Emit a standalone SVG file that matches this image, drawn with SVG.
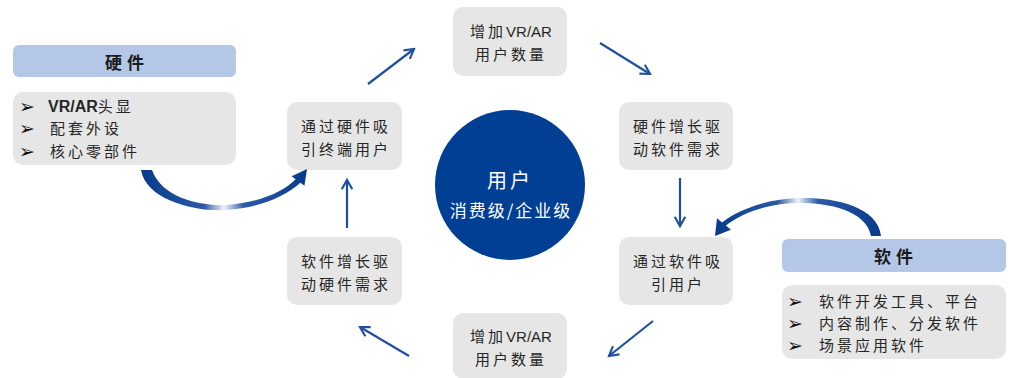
<svg xmlns="http://www.w3.org/2000/svg" width="1009" height="378" viewBox="0 0 1009 378">
  <defs>
    <style>
      .box { fill: #e6e6e6; }
      .hdr { fill: #b4c7e7; }
      .t { font-family: "Noto Sans CJK SC", "Noto Sans", sans-serif; font-size: 15px; fill: #262626; letter-spacing: 3px; text-anchor: middle; }
      .h { font-family: "Noto Sans CJK SC", "Noto Sans", sans-serif; font-size: 17px; font-weight: bold; fill: #1a1a1a; letter-spacing: 5px; text-anchor: middle; }
      .li { font-family: "Noto Sans CJK SC", "Noto Sans", sans-serif; font-size: 15px; fill: #262626; letter-spacing: 3px; }
      .bul { font-family: "DejaVu Sans", sans-serif; font-size: 19px; fill: #111; }
      .w { font-family: "Noto Sans CJK SC", "Noto Sans", sans-serif; fill: #ffffff; text-anchor: middle; }
      .conn { stroke: #1f4fa0; stroke-width: 2.2; fill: none; marker-end: url(#ah); }
    </style>
    <marker id="ah" viewBox="0 0 10 10" refX="8" refY="5" markerWidth="6" markerHeight="6" orient="auto" markerUnits="strokeWidth">
      <path d="M1,1 L8,5 L1,9" fill="none" stroke="#1f4fa0" stroke-width="1.6"/>
    </marker>
    <linearGradient id="gh" x1="0" y1="0" x2="1" y2="0">
      <stop offset="0" stop-color="#073a8c"/>
      <stop offset="0.38" stop-color="#2d5aa6"/>
      <stop offset="0.5" stop-color="#eef2fa"/>
      <stop offset="0.62" stop-color="#2d5aa6"/>
      <stop offset="1" stop-color="#073a8c"/>
    </linearGradient>
  </defs>

  <g id="hardware-header">
    <rect class="hdr" x="13" y="45" width="223" height="32" rx="6"/>
    <text class="h" x="127" y="69">硬件</text>
  </g>
  <g id="hardware-list">
    <rect class="box" x="13" y="92" width="223" height="73" rx="10"/>
    <text class="bul" x="19" y="113">➢</text>
    <text class="bul" x="19" y="135">➢</text>
    <text class="bul" x="19" y="158">➢</text>
    <text class="li" x="48" y="112"><tspan font-family="Liberation Sans, sans-serif" font-weight="bold" font-size="16" letter-spacing="0">VR/AR</tspan>头显</text>
    <text class="li" x="50" y="134">配套外设</text>
    <text class="li" x="50" y="157">核心零部件</text>
  </g>

  <g id="attract-hw">
    <rect class="box" x="287" y="102" width="115" height="68" rx="10"/>
    <text class="t" x="346" y="132">通过硬件吸</text>
    <text class="t" x="346" y="155">引终端用户</text>
  </g>
  <g id="increase-top">
    <rect class="box" x="453" y="7" width="114" height="69" rx="10"/>
    <text class="t" x="511" y="37">增加<tspan font-family="Liberation Sans, sans-serif" letter-spacing="0">VR/AR</tspan></text>
    <text class="t" x="511" y="60">用户数量</text>
  </g>
  <g id="hw-drives-sw">
    <rect class="box" x="619" y="102" width="114" height="68" rx="10"/>
    <text class="t" x="678" y="132">硬件增长驱</text>
    <text class="t" x="678" y="155">动软件需求</text>
  </g>
  <g id="attract-sw">
    <rect class="box" x="619" y="237" width="114" height="68" rx="10"/>
    <text class="t" x="678" y="267">通过软件吸</text>
    <text class="t" x="678" y="290">引用户</text>
  </g>
  <g id="increase-bottom">
    <rect class="box" x="453" y="313" width="114" height="66" rx="10"/>
    <text class="t" x="511" y="342">增加<tspan font-family="Liberation Sans, sans-serif" letter-spacing="0">VR/AR</tspan></text>
    <text class="t" x="511" y="365">用户数量</text>
  </g>
  <g id="sw-drives-hw">
    <rect class="box" x="287" y="237" width="115" height="68" rx="10"/>
    <text class="t" x="346" y="267">软件增长驱</text>
    <text class="t" x="346" y="290">动硬件需求</text>
  </g>

  <g id="users">
    <circle cx="510" cy="185" r="75" fill="#003f94"/>
    <text class="w" x="510" y="188" font-size="20" letter-spacing="3">用户</text>
    <text class="w" x="511" y="217" font-size="17" letter-spacing="2">消费级/企业级</text>
  </g>

  <g id="software-header">
    <rect class="hdr" x="782" y="239" width="224" height="33" rx="6"/>
    <text class="h" x="896" y="263">软件</text>
  </g>
  <g id="software-list">
    <rect class="box" x="782" y="285" width="224" height="74" rx="10"/>
    <text class="bul" x="787" y="308">➢</text>
    <text class="bul" x="787" y="330">➢</text>
    <text class="bul" x="787" y="352">➢</text>
    <text class="li" x="819" y="307">软件开发工具、平台</text>
    <text class="li" x="819" y="329">内容制作、分发软件</text>
    <text class="li" x="819" y="351">场景应用软件</text>
  </g>

  <g id="connectors">
    <line class="conn" x1="368" y1="84" x2="414" y2="49"/>
    <line class="conn" x1="600" y1="43" x2="650" y2="74"/>
    <line class="conn" x1="680" y1="178" x2="680" y2="226"/>
    <line class="conn" x1="653" y1="321" x2="609" y2="356"/>
    <line class="conn" x1="409" y1="356" x2="360" y2="327"/>
    <line class="conn" x1="347" y1="228" x2="347" y2="180"/>
    <path fill="url(#gh)" d="M141,170 C146,200 195,212 226,210 C258,208 285,197 300.4,182.8 L304.4,185.8 L307,169 L291.6,176.2 L295.6,179.2 C283,192 258,203 226,205 C200,206 162,198 152,170 Z"/>
    <path fill="url(#gh)" d="M881,236 C878,205 830,197 800,198 C765,199 738,210 722.1,222.4 L717,218.3 L715,236 L731,229.7 L725.9,225.6 C742,213 768,203 800,203 C828,203 866,210 871,236 Z"/>
  </g>
</svg>
